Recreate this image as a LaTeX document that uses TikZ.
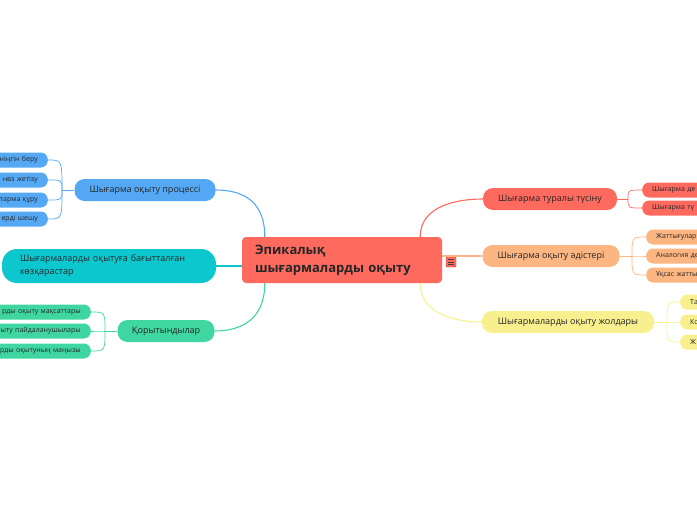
\documentclass[tikz,border=0pt]{standalone}
\usepackage{fontspec}
\setmainfont{Open Sans}
\usepackage{tikz}
\usetikzlibrary{positioning}
\definecolor{cRed}{HTML}{FF6A5F}
\definecolor{cBlue}{HTML}{55A8F4}
\definecolor{cCyan}{HTML}{0DC7CF}
\definecolor{cGreen}{HTML}{40D6A2}
\definecolor{cOrange}{HTML}{FDB581}
\definecolor{cYellow}{HTML}{F8F08E}

\begin{document}
\begin{tikzpicture}[x=1pt,y=-1pt,
  every node/.style={text=black!85},
  topic/.style={rounded corners=10pt, minimum height=22pt, inner sep=0pt, font=\fontsize{9}{11}\selectfont},
  leaf/.style={rounded corners=7pt, minimum height=15pt, inner ysep=0pt, inner xsep=10pt, text width=110pt, font=\fontsize{7}{8}\selectfont},
  link/.style={line width=1.1pt},
  twig/.style={line width=0.7pt}]

\useasboundingbox (0,0) rectangle (697,520);
\clip (0,0) rectangle (697,520);

% centre
\node[fill=cRed, rounded corners=4pt, minimum height=46pt, text width=174pt, align=left,
      inner xsep=13pt, inner ysep=0pt, font=\bfseries\fontsize{13}{18}\selectfont] (epic) at (342,260) {Эпикалық\\шығармаларды оқыту};
\node[fill=cRed, draw=cRed!70!black, line width=0.4pt, minimum size=10pt, inner sep=0pt, rounded corners=1pt] (menu) at (451,262) {};
\foreach \d in {-2.5,0,2.5}
  \draw[black!75, line width=0.7pt] ([xshift=-3pt,yshift=\d pt]menu.center) -- ([xshift=3pt,yshift=\d pt]menu.center);

% left side
\node[topic, fill=cBlue, minimum width=141pt] (proc) at (145,190) {Шығарма оқыту процессі};
\node[leaf, fill=cBlue, anchor=east, align=right] (p1) at (48,160) {ніңгін беру};
\node[leaf, fill=cBlue, anchor=east, align=right] (p2) at (48,180) {нвз жетізу};
\node[leaf, fill=cBlue, anchor=east, align=right] (p3) at (48,200) {тарма құру};
\node[leaf, fill=cBlue, anchor=east, align=right] (p4) at (48,219) {ерді шешу};

\node[fill=cCyan, rounded corners=15pt, minimum height=34pt, text width=178pt, align=left,
      inner xsep=18pt, inner ysep=0pt, font=\fontsize{9}{13}\selectfont] (view) at (109,266) {Шығармаларды оқытуға бағытталған\\көзқарастар};

\node[topic, fill=cGreen, minimum width=97pt] (conc) at (166,331) {Қорытындылар};
\node[leaf, fill=cGreen, anchor=east, align=right] (c1) at (91,312) {рды оқыту мақсаттары};
\node[leaf, fill=cGreen, anchor=east, align=right] (c2) at (91,331) {ыту пайдаланушылары};
\node[leaf, fill=cGreen, anchor=east, align=right] (c3) at (91,351) {рды оқытуның маңызы};

% right side
\node[topic, fill=cRed, minimum width=134pt] (idea) at (550,199) {Шығарма туралы түсіну};
\node[leaf, fill=cRed, anchor=west, align=left] (i1) at (642,190) {Шығарма де};
\node[leaf, fill=cRed, anchor=west, align=left] (i2) at (642,208) {Шығарма тү};

\node[topic, fill=cOrange, minimum width=137pt] (meth) at (551,256) {Шығарма оқыту әдістері};
\node[leaf, fill=cOrange, anchor=west, align=left] (m1) at (646,237) {Жаттығулар};
\node[leaf, fill=cOrange, anchor=west, align=left] (m2) at (646,256) {Аналогия де};
\node[leaf, fill=cOrange, anchor=west, align=left] (m3) at (646,275) {Ұқсас жатты};

\node[topic, fill=cYellow, minimum width=172pt] (ways) at (568,322) {Шығармаларды оқыту жолдары};
\node[leaf, fill=cYellow, anchor=west, align=left] (w1) at (680,302) {Та};
\node[leaf, fill=cYellow, anchor=west, align=left] (w2) at (680,322) {Ко};
\node[leaf, fill=cYellow, anchor=west, align=left] (w3) at (680,342) {Ж};

% main links
\draw[link, cBlue] ([xshift=23pt]epic.north west) .. controls +(0,-35) and +(28,0) .. (proc.east);
\draw[link, cCyan] (view.east) -- (view.east -| epic.west);
\draw[link, cGreen] ([xshift=23pt]epic.south west) .. controls +(0,35) and +(28,0) .. (conc.east);
\draw[link, cRed] ([xshift=-22pt]epic.north east) .. controls +(0,-30) and +(-28,0) .. (idea.west);
\draw[link, cOrange] (meth.west -| epic.east) -- (meth.west);
\draw[link, cYellow] ([xshift=-22pt]epic.south east) .. controls +(0,30) and +(-28,0) .. (ways.west);

% leaf links
\coordinate (pj) at (62,190);
\draw[twig, cBlue] (proc.west) -- (pj);
\foreach \n in {p1,p2,p3,p4} \draw[twig, cBlue] (pj) .. controls (pj |- \n.east) .. (\n.east);

\coordinate (cj) at (105,331);
\draw[twig, cGreen] (conc.west) -- (cj);
\foreach \n in {c1,c2,c3} \draw[twig, cGreen] (cj) .. controls (cj |- \n.east) .. (\n.east);

\coordinate (ij) at (628,199);
\draw[twig, cRed] (idea.east) -- (ij);
\foreach \n in {i1,i2} \draw[twig, cRed] (ij) .. controls (ij |- \n.west) .. (\n.west);

\coordinate (mj) at (632,256);
\draw[twig, cOrange] (meth.east) -- (mj);
\foreach \n in {m1,m2,m3} \draw[twig, cOrange] (mj) .. controls (mj |- \n.west) .. (\n.west);

\coordinate (wj) at (667,322);
\draw[twig, cYellow] (ways.east) -- (wj);
\foreach \n in {w1,w2,w3} \draw[twig, cYellow] (wj) .. controls (wj |- \n.west) .. (\n.west);

\end{tikzpicture}
\end{document}
